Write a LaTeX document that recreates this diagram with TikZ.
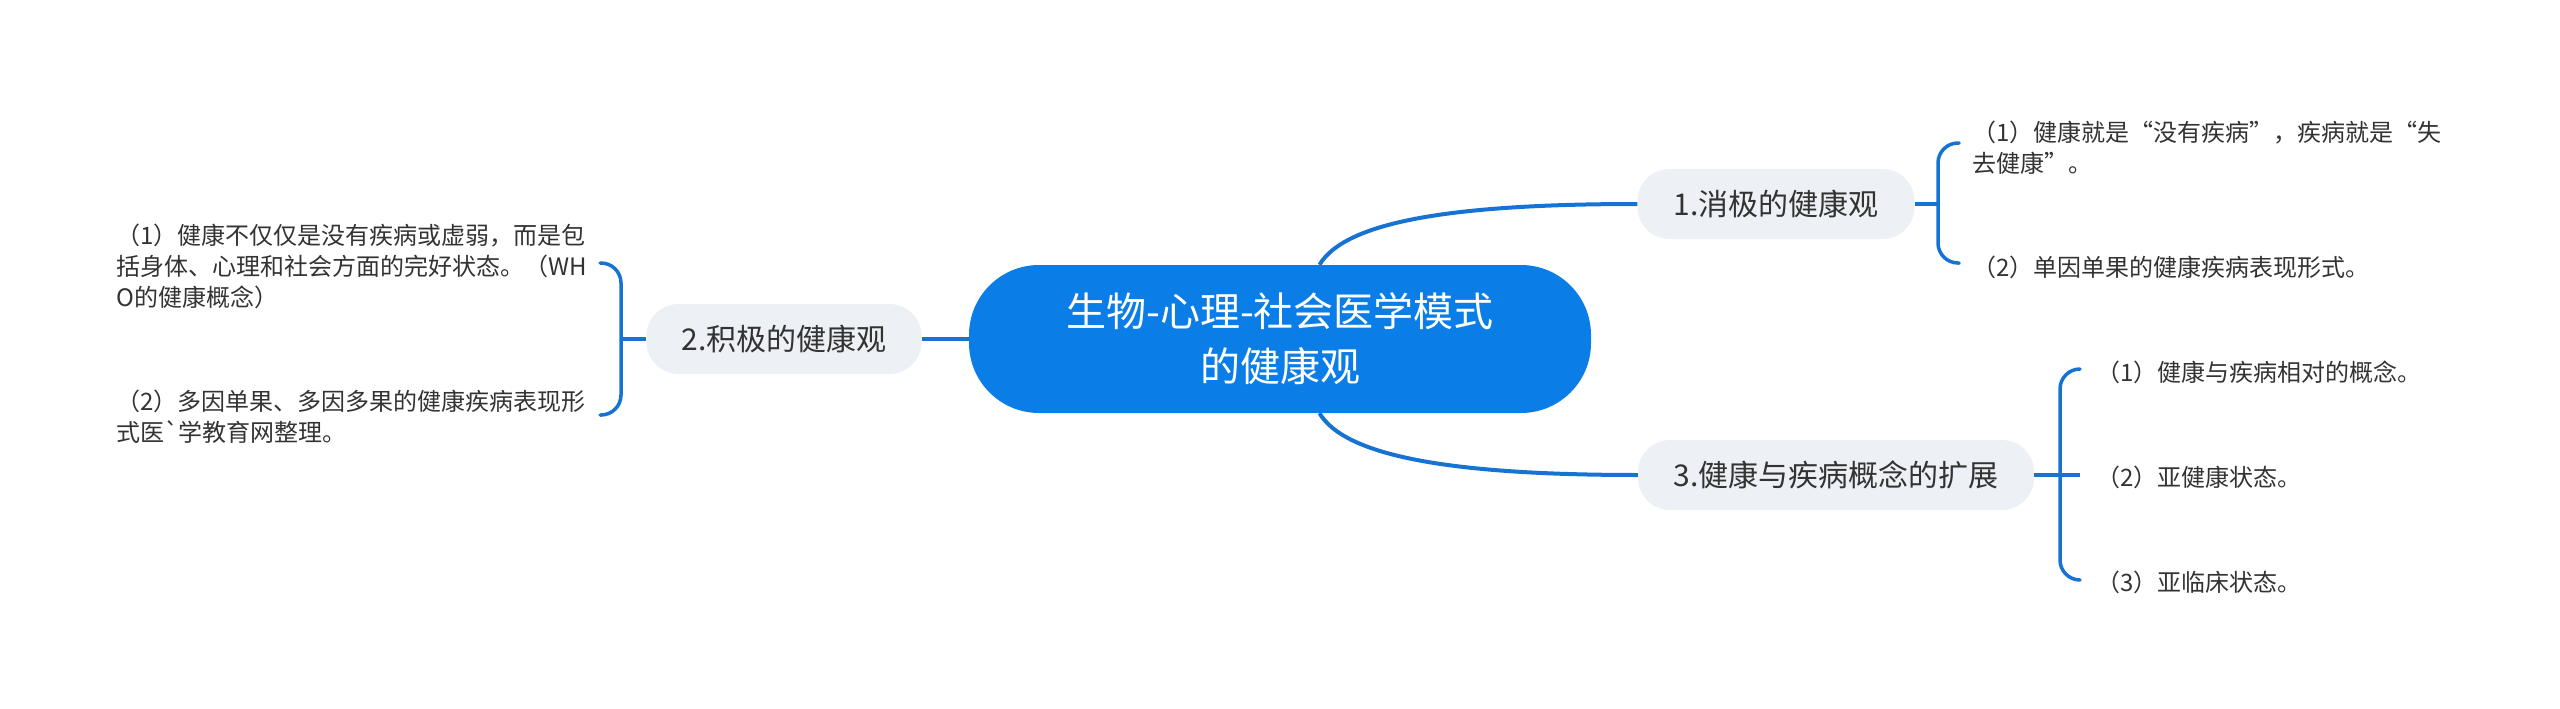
\documentclass[tikz,border=0pt]{standalone}
\usepackage{fontspec}
\newfontfamily\cjk{Noto Sans CJK SC}
\definecolor{cblue}{HTML}{0A7EE6}
\definecolor{lblue}{HTML}{1673D4}
\definecolor{ngray}{HTML}{EDF0F4}
\definecolor{tdark}{HTML}{333333}
\begin{document}
\begin{tikzpicture}[x=1pt,y=-1pt,
  central/.style={fill=cblue,text=white,rounded corners=70pt,minimum width=622pt,minimum height=148pt,inner sep=0pt,align=center,font=\cjk\fontsize{40}{55}\selectfont},
  topic/.style={fill=ngray,text=tdark,rounded corners=32pt,minimum height=70pt,inner sep=0pt,font=\cjk\fontsize{30}{36}\selectfont},
  leaf/.style={anchor=west,inner sep=0pt,align=left,text=tdark,font=\cjk\fontsize{24}{31}\selectfont},
  conn/.style={draw=lblue,line width=4pt},
  brace/.style={draw=lblue,line width=3.5pt,rounded corners=20pt,line cap=round}]
\useasboundingbox (0,0) rectangle (2560,709);
% main nodes
\node[central] (c) at (1280,339) {生物-心理-社会医学模式\\的健康观};
\node[topic,minimum width=277pt] (n1) at (1776,204) {1.消极的健康观};
\node[topic,minimum width=275pt] (n2) at (784,339) {2.积极的健康观};
\node[topic,minimum width=396pt] (n3) at (1836,475) {3.健康与疾病概念的扩展};
% leaves
\node[leaf] (l11) at (1972,147.5) {（1）健康就是“没有疾病”，疾病就是“失\\去健康”。};
\node[leaf] (l12) at (1972,267) {（2）单因单果的健康疾病表现形式。};
\node[leaf] (l21) at (116,266) {（1）健康不仅仅是没有疾病或虚弱，而是包\\括身体、心理和社会方面的完好状态。（WH\\O的健康概念）};
\node[leaf] (l22) at (116,417) {（2）多因单果、多因多果的健康疾病表现形\\式医`学教育网整理。};
\node[leaf] (l31) at (2096,372) {（1）健康与疾病相对的概念。};
\node[leaf] (l32) at (2096,477) {（2）亚健康状态。};
\node[leaf] (l33) at (2096,582) {（3）亚临床状态。};
% brace coordinates
\coordinate (b1) at (1938,204);
\coordinate (b1t) at (1959,143);
\coordinate (b1b) at (1959,263);
\coordinate (b2) at (621,339);
\coordinate (b2t) at (600,263);
\coordinate (b2b) at (600,415);
\coordinate (b3) at (2060,475);
\coordinate (b3t) at (2080,369);
\coordinate (b3m) at (2080,475);
\coordinate (b3b) at (2080,580);
% main connectors
\draw[conn] (c.62) .. controls (1345,222) and (1450,204) .. (n1.west);
\draw[conn] (c.-62) .. controls (1345,456) and (1450,475) .. (n3.west);
\draw[conn] (c.west) -- (n2.east);
% braces
\draw[conn,line width=3.5pt] (n1.east) -- (b1);
\draw[brace] (b1t) -- (b1 |- b1t) -- (b1 |- b1b) -- (b1b);
\draw[conn,line width=3.5pt] (n2.west) -- (b2);
\draw[brace] (b2t) -- (b2 |- b2t) -- (b2 |- b2b) -- (b2b);
\draw[conn,line width=3.5pt] (n3.east) -- (b3m);
\draw[brace] (b3t) -- (b3 |- b3t) -- (b3 |- b3b) -- (b3b);
\end{tikzpicture}
\end{document}
